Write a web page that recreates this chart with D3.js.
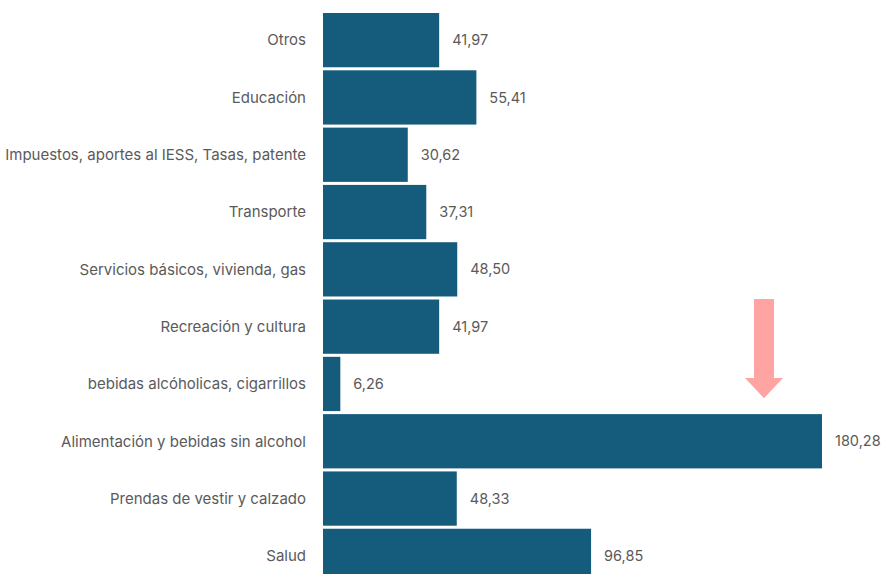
<!DOCTYPE html>
<html><head><meta charset="utf-8">
<script src="https://cdn.jsdelivr.net/npm/d3@7"></script>
<style>body{margin:0;background:#fff;}svg{display:block;}</style>
</head><body>
<svg id="c" width="883" height="574"></svg>
<script>
const categories = ["Otros","Educación","Impuestos, aportes al IESS, Tasas, patente","Transporte","Servicios básicos, vivienda, gas","Recreación y cultura","bebidas alcóholicas, cigarrillos","Alimentación y bebidas sin alcohol","Prendas de vestir y calzado","Salud"];
const values = [41.97,55.41,30.62,37.31,48.50,41.97,6.26,180.28,48.33,96.85];
const highlight = "Alimentación y bebidas sin alcohol";

const svg = d3.select("#c");
const x = d3.scaleLinear().domain([0, 180.28]).range([323, 822]);
const y = d3.scaleBand().domain(categories).range([13, 583]).paddingInner(0.053).paddingOuter(0.0);
const fmt = v => d3.format(".2f")(v).replace(".", ",");

svg.selectAll("rect.bar").data(categories).join("rect").attr("class","bar")
  .attr("x", x(0)).attr("y", d => y(d)).attr("width", (d,i) => x(values[i]) - x(0))
  .attr("height", y.bandwidth()).attr("fill", "#155b7c");

svg.selectAll("text.cat").data(categories).join("text").attr("class","cat")
  .attr("x", 306).attr("y", d => y(d) + y.bandwidth()/2).attr("dy","0.35em")
  .attr("text-anchor","end").attr("font-family","Inter, 'Liberation Sans', sans-serif")
  .attr("font-size", 15).attr("fill", "#5a5a5a").text(d => d);

svg.selectAll("text.val").data(categories).join("text").attr("class","val")
  .attr("x", (d,i) => x(values[i]) + 13).attr("y", d => y(d) + y.bandwidth()/2).attr("dy","0.35em")
  .attr("font-family","Inter, 'Liberation Sans', sans-serif")
  .attr("font-size", 14.5).attr("fill", "#5a5a5a").text((d,i) => fmt(values[i]));

// arrow above highlighted bar
const ax = 764, aTop = 299, shaftB = 378, tip = y(highlight) - 16;
svg.append("path")
  .attr("d", `M${ax-10},${aTop} L${ax+10},${aTop} L${ax+10},${shaftB} L${ax+19},${shaftB} L${ax},${tip} L${ax-19},${shaftB} L${ax-10},${shaftB} Z`)
  .attr("fill", "#ffa3a3");
</script>
</body></html>
